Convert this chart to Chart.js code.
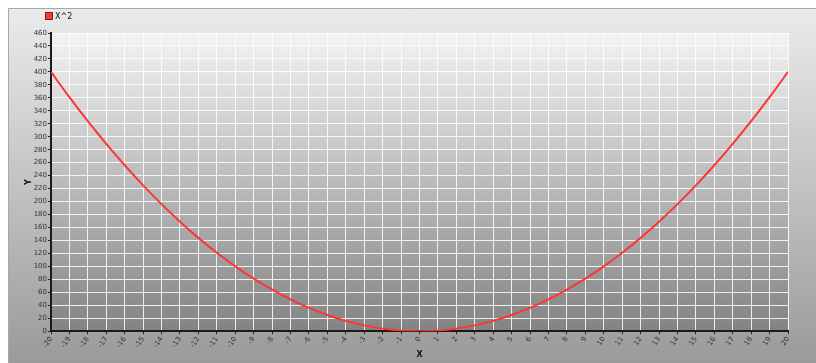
<!DOCTYPE html>
<html>
<head>
<meta charset="utf-8">
<script src="https://cdn.jsdelivr.net/npm/chart.js@4"></script>
<style>
  html, body { margin: 0; padding: 0; background: #fff; }
  #wrap { width: 816px; height: 363px; }
</style>
</head>
<body>
<div id="wrap"><canvas id="grafiek" width="816" height="363"></canvas></div>
<script>
// x-waarden en de bijhorende y-waarden (X^2)
const xWaarden = [-20, -19, -18, -17, -16, -15, -14, -13, -12, -11, -10, -9, -8, -7, -6, -5, -4, -3, -2, -1, 0,
    1, 2, 3, 4, 5, 6, 7, 8, 9, 10, 11, 12, 13, 14, 15, 16, 17, 18, 19, 20];
const yWaarden = [400, 361, 324, 289, 256, 225, 196, 169, 144, 121, 100, 81, 64, 49, 36, 25, 16, 9, 4, 1, 0,
    1, 4, 9, 16, 25, 36, 49, 64, 81, 100, 121, 144, 169, 196, 225, 256, 289, 324, 361, 400];
const reeksNaam = "X^2";
const reeksKleur = "#ff3535";

// achtergrond: kader met verloop en het plotgebied met eigen verloop
const achtergrondPlugin = {
    id: 'achtergrond',
    beforeDraw(chart) {
        const ctx = chart.ctx;
        const a = chart.chartArea;
        ctx.save();
        ctx.fillStyle = '#ffffff';
        ctx.fillRect(0, 0, chart.width, chart.height);
        let g = ctx.createLinearGradient(0, 8, 0, chart.height);
        g.addColorStop(0, '#ebebeb');
        g.addColorStop(1, '#9a9a9a');
        ctx.fillStyle = g;
        ctx.fillRect(8, 8, chart.width - 8, chart.height - 8);
        ctx.strokeStyle = '#a8a8a8';
        ctx.lineWidth = 1;
        ctx.beginPath();
        ctx.moveTo(8.5, chart.height);
        ctx.lineTo(8.5, 8.5);
        ctx.lineTo(chart.width, 8.5);
        ctx.stroke();
        g = ctx.createLinearGradient(0, a.top, 0, a.bottom);
        g.addColorStop(0, '#f3f3f3');
        g.addColorStop(1, '#838383');
        ctx.fillStyle = g;
        ctx.fillRect(a.left, a.top, a.right - a.left, a.bottom - a.top);
        ctx.restore();
    },
    afterDraw(chart) {
        // legende linksboven
        const ctx = chart.ctx;
        ctx.save();
        ctx.fillStyle = reeksKleur;
        ctx.fillRect(46, 13, 6, 6);
        ctx.strokeStyle = '#7a2020';
        ctx.lineWidth = 1;
        ctx.strokeRect(45.5, 12.5, 7, 7);
        ctx.fillStyle = '#111';
        ctx.font = '8px "DejaVu Sans"';
        ctx.textBaseline = 'middle';
        ctx.fillText(reeksNaam, 55, 16.5);
        ctx.restore();
    }
};

const tickFont = { family: 'DejaVu Sans', size: 7 };

new Chart(document.getElementById('grafiek').getContext('2d'), {
    type: 'line',
    data: {
        datasets: [{
            label: reeksNaam,
            data: xWaarden.map((x, i) => ({ x: x, y: yWaarden[i] })),
            borderColor: reeksKleur,
            backgroundColor: reeksKleur,
            borderWidth: 2,
            pointRadius: 0,
            tension: 0.4,
            fill: false
        }]
    },
    options: {
        responsive: false,
        animation: false,
        layout: { padding: { left: 8, top: 33, right: 28, bottom: 3 } },
        plugins: {
            legend: { display: false },
            tooltip: { enabled: false }
        },
        scales: {
            x: {
                type: 'linear',
                min: -20,
                max: 20,
                ticks: { stepSize: 1, font: tickFont, color: '#333', minRotation: 55, maxRotation: 55, padding: 1 },
                grid: { color: 'rgba(255,255,255,0.85)', tickColor: '#222', tickLength: 3 },
                border: { color: '#1a1a1a', width: 2 },
                title: { display: true, text: 'X', font: { family: 'DejaVu Sans', size: 8, weight: 'bold' }, color: '#111', padding: 0 }
            },
            y: {
                min: 0,
                max: 460,
                afterFit(scale) { scale.width = 43; },
                ticks: { stepSize: 20, font: tickFont, color: '#333', padding: 1 },
                grid: { color: 'rgba(255,255,255,0.85)', tickColor: '#222', tickLength: 3 },
                border: { color: '#1a1a1a', width: 2 },
                title: { display: true, text: 'Y', font: { family: 'DejaVu Sans', size: 8, weight: 'bold' }, color: '#111', padding: { top: 16, bottom: 2 } }
            }
        }
    },
    plugins: [achtergrondPlugin]
});
</script>
</body>
</html>
